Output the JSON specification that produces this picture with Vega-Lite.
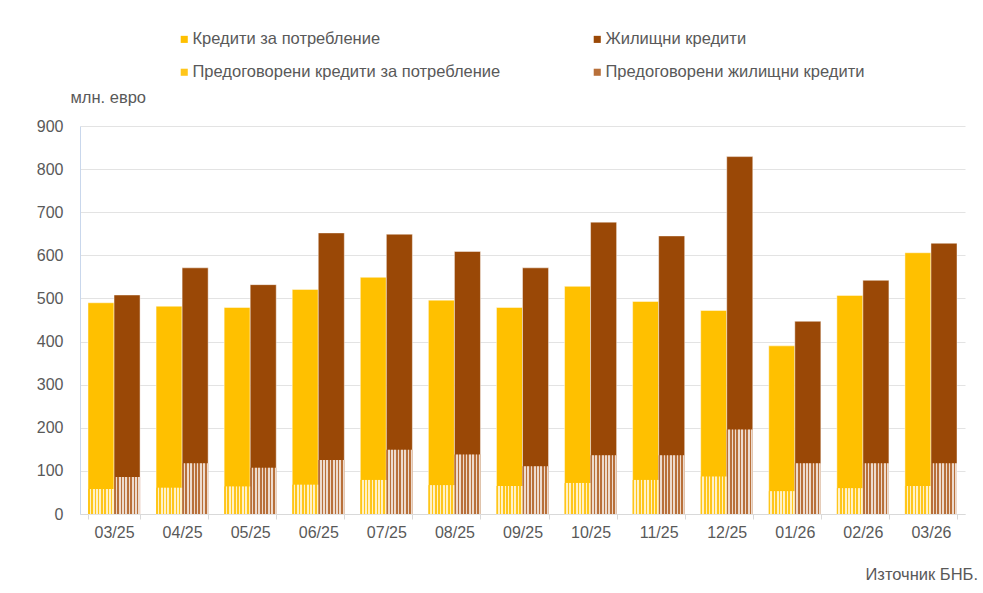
{
  "$schema": "https://vega.github.io/schema/vega-lite/v6.json",
  "width": 885,
  "height": 388,
  "autosize": {"type": "none"},
  "padding": {"left": 80, "top": 126, "right": 18, "bottom": 79},
  "background": "white",
  "config": {
    "view": {"stroke": null},
    "font": "Liberation Sans"
  },
  "title": {
    "text": "Източник БНБ.",
    "orient": "bottom",
    "anchor": "end",
    "fontSize": 16.5,
    "fontWeight": "normal",
    "color": "#595959",
    "font": "Liberation Sans",
    "offset": 27,
    "dx": 13
  },
  "data": {
    "values": [
      {"month": "03/25", "type": "Кредити за потребление", "rtype": "Предоговорени кредити за потребление", "total": 490, "reneg": 58},
      {"month": "03/25", "type": "Жилищни кредити", "rtype": "Предоговорени жилищни кредити", "total": 508, "reneg": 86},
      {"month": "04/25", "type": "Кредити за потребление", "rtype": "Предоговорени кредити за потребление", "total": 482, "reneg": 61},
      {"month": "04/25", "type": "Жилищни кредити", "rtype": "Предоговорени жилищни кредити", "total": 571, "reneg": 118},
      {"month": "05/25", "type": "Кредити за потребление", "rtype": "Предоговорени кредити за потребление", "total": 479, "reneg": 64},
      {"month": "05/25", "type": "Жилищни кредити", "rtype": "Предоговорени жилищни кредити", "total": 532, "reneg": 107},
      {"month": "06/25", "type": "Кредити за потребление", "rtype": "Предоговорени кредити за потребление", "total": 521, "reneg": 68},
      {"month": "06/25", "type": "Жилищни кредити", "rtype": "Предоговорени жилищни кредити", "total": 652, "reneg": 125},
      {"month": "07/25", "type": "Кредити за потребление", "rtype": "Предоговорени кредити за потребление", "total": 549, "reneg": 79},
      {"month": "07/25", "type": "Жилищни кредити", "rtype": "Предоговорени жилищни кредити", "total": 649, "reneg": 149},
      {"month": "08/25", "type": "Кредити за потребление", "rtype": "Предоговорени кредити за потребление", "total": 496, "reneg": 67},
      {"month": "08/25", "type": "Жилищни кредити", "rtype": "Предоговорени жилищни кредити", "total": 609, "reneg": 138},
      {"month": "09/25", "type": "Кредити за потребление", "rtype": "Предоговорени кредити за потребление", "total": 479, "reneg": 65},
      {"month": "09/25", "type": "Жилищни кредити", "rtype": "Предоговорени жилищни кредити", "total": 571, "reneg": 111},
      {"month": "10/25", "type": "Кредити за потребление", "rtype": "Предоговорени кредити за потребление", "total": 528, "reneg": 72},
      {"month": "10/25", "type": "Жилищни кредити", "rtype": "Предоговорени жилищни кредити", "total": 677, "reneg": 136},
      {"month": "11/25", "type": "Кредити за потребление", "rtype": "Предоговорени кредити за потребление", "total": 493, "reneg": 79},
      {"month": "11/25", "type": "Жилищни кредити", "rtype": "Предоговорени жилищни кредити", "total": 645, "reneg": 136},
      {"month": "12/25", "type": "Кредити за потребление", "rtype": "Предоговорени кредити за потребление", "total": 472, "reneg": 87},
      {"month": "12/25", "type": "Жилищни кредити", "rtype": "Предоговорени жилищни кредити", "total": 829, "reneg": 196},
      {"month": "01/26", "type": "Кредити за потребление", "rtype": "Предоговорени кредити за потребление", "total": 390, "reneg": 53},
      {"month": "01/26", "type": "Жилищни кредити", "rtype": "Предоговорени жилищни кредити", "total": 447, "reneg": 118},
      {"month": "02/26", "type": "Кредити за потребление", "rtype": "Предоговорени кредити за потребление", "total": 507, "reneg": 60},
      {"month": "02/26", "type": "Жилищни кредити", "rtype": "Предоговорени жилищни кредити", "total": 542, "reneg": 118},
      {"month": "03/26", "type": "Кредити за потребление", "rtype": "Предоговорени кредити за потребление", "total": 606, "reneg": 65},
      {"month": "03/26", "type": "Жилищни кредити", "rtype": "Предоговорени жилищни кредити", "total": 628, "reneg": 118}
    ]
  },
  "encoding": {
    "x": {
      "field": "month",
      "type": "ordinal",
      "sort": ["03/25", "04/25", "05/25", "06/25", "07/25", "08/25", "09/25", "10/25", "11/25", "12/25", "01/26", "02/26", "03/26"],
      "scale": {"paddingInner": 0.235, "paddingOuter": 0.1175},
      "axis": {
        "title": null,
        "labelAngle": 0,
        "labelFontSize": 16,
        "labelColor": "#595959",
        "labelFont": "Liberation Sans",
        "labelPadding": 5,
        "tickBand": "extent",
        "tickSize": 5,
        "tickColor": "#d9d9d9",
        "domainColor": "#d9d9d9",
        "grid": false
      }
    },
    "xOffset": {
      "field": "type",
      "type": "nominal",
      "sort": ["Кредити за потребление", "Жилищни кредити"],
      "scale": {"paddingInner": 0, "paddingOuter": 0}
    }
  },
  "layer": [
    {
      "mark": {"type": "bar", "stroke": "#ffffff", "strokeOpacity": 0.45, "strokeWidth": 1},
      "encoding": {
        "y": {
          "field": "total",
          "type": "quantitative",
          "stack": null,
          "scale": {"domain": [0, 900], "nice": false},
          "axis": {
            "values": [0, 100, 200, 300, 400, 500, 600, 700, 800, 900],
            "title": "млн. евро",
            "titleAngle": 0,
            "titleAlign": "left",
            "titleBaseline": "middle",
            "titleX": -10,
            "titleY": -29,
            "titleFontSize": 16.5,
            "titleFontWeight": "normal",
            "titleColor": "#595959",
            "titleFont": "Liberation Sans",
            "labelFontSize": 16,
            "labelColor": "#595959",
            "labelFont": "Liberation Sans",
            "labelPadding": 17,
            "ticks": false,
            "domain": true,
            "domainColor": "#c9d7ec",
            "gridColor": "#e3e3e3",
            "gridWidth": 1
          }
        },
        "color": {
          "field": "type",
          "type": "nominal",
          "scale": {
            "domain": ["Кредити за потребление", "Жилищни кредити", "Предоговорени кредити за потребление", "Предоговорени жилищни кредити"],
            "range": ["#FFC000", "#9A4806", "#FFC61A", "#B8703A"]
          },
          "legend": {
            "title": null,
            "orient": "none",
            "legendX": 96,
            "legendY": -95,
            "direction": "horizontal",
            "columns": 2,
            "columnPadding": 88,
            "rowPadding": 16,
            "symbolType": "square",
            "symbolSize": 50,
            "symbolStrokeWidth": 0,
            "labelFontSize": 16.5,
            "labelColor": "#595959",
            "labelFont": "Liberation Sans",
            "labelOffset": 0,
            "labelLimit": 400
          }
        }
      }
    },
    {
      "mark": {"type": "bar"},
      "encoding": {
        "y": {"field": "reneg", "type": "quantitative", "stack": null},
        "color": {"field": "rtype", "type": "nominal"}
      }
    },
    {
      "mark": {
        "type": "bar",
        "fill": {
          "gradient": "linear",
          "x1": 0, "y1": 0, "x2": 1, "y2": 0,
          "stops": [
            {"offset": 0, "color": "rgba(255,255,255,0)"},
            {"offset": 0.0625, "color": "rgba(255,255,255,0)"},
            {"offset": 0.0625, "color": "rgba(255,255,255,0.75)"},
            {"offset": 0.125, "color": "rgba(255,255,255,0.75)"},
            {"offset": 0.125, "color": "rgba(255,255,255,0)"},
            {"offset": 0.1875, "color": "rgba(255,255,255,0)"},
            {"offset": 0.1875, "color": "rgba(255,255,255,0.75)"},
            {"offset": 0.25, "color": "rgba(255,255,255,0.75)"},
            {"offset": 0.25, "color": "rgba(255,255,255,0)"},
            {"offset": 0.3125, "color": "rgba(255,255,255,0)"},
            {"offset": 0.3125, "color": "rgba(255,255,255,0.75)"},
            {"offset": 0.375, "color": "rgba(255,255,255,0.75)"},
            {"offset": 0.375, "color": "rgba(255,255,255,0)"},
            {"offset": 0.4375, "color": "rgba(255,255,255,0)"},
            {"offset": 0.4375, "color": "rgba(255,255,255,0.75)"},
            {"offset": 0.5, "color": "rgba(255,255,255,0.75)"},
            {"offset": 0.5, "color": "rgba(255,255,255,0)"},
            {"offset": 0.5625, "color": "rgba(255,255,255,0)"},
            {"offset": 0.5625, "color": "rgba(255,255,255,0.75)"},
            {"offset": 0.625, "color": "rgba(255,255,255,0.75)"},
            {"offset": 0.625, "color": "rgba(255,255,255,0)"},
            {"offset": 0.6875, "color": "rgba(255,255,255,0)"},
            {"offset": 0.6875, "color": "rgba(255,255,255,0.75)"},
            {"offset": 0.75, "color": "rgba(255,255,255,0.75)"},
            {"offset": 0.75, "color": "rgba(255,255,255,0)"},
            {"offset": 0.8125, "color": "rgba(255,255,255,0)"},
            {"offset": 0.8125, "color": "rgba(255,255,255,0.75)"},
            {"offset": 0.875, "color": "rgba(255,255,255,0.75)"},
            {"offset": 0.875, "color": "rgba(255,255,255,0)"},
            {"offset": 0.9375, "color": "rgba(255,255,255,0)"},
            {"offset": 0.9375, "color": "rgba(255,255,255,0.75)"},
            {"offset": 1, "color": "rgba(255,255,255,0.75)"}
          ]
        }
      },
      "encoding": {
        "y": {"field": "reneg", "type": "quantitative", "stack": null}
      }
    }
  ]
}
